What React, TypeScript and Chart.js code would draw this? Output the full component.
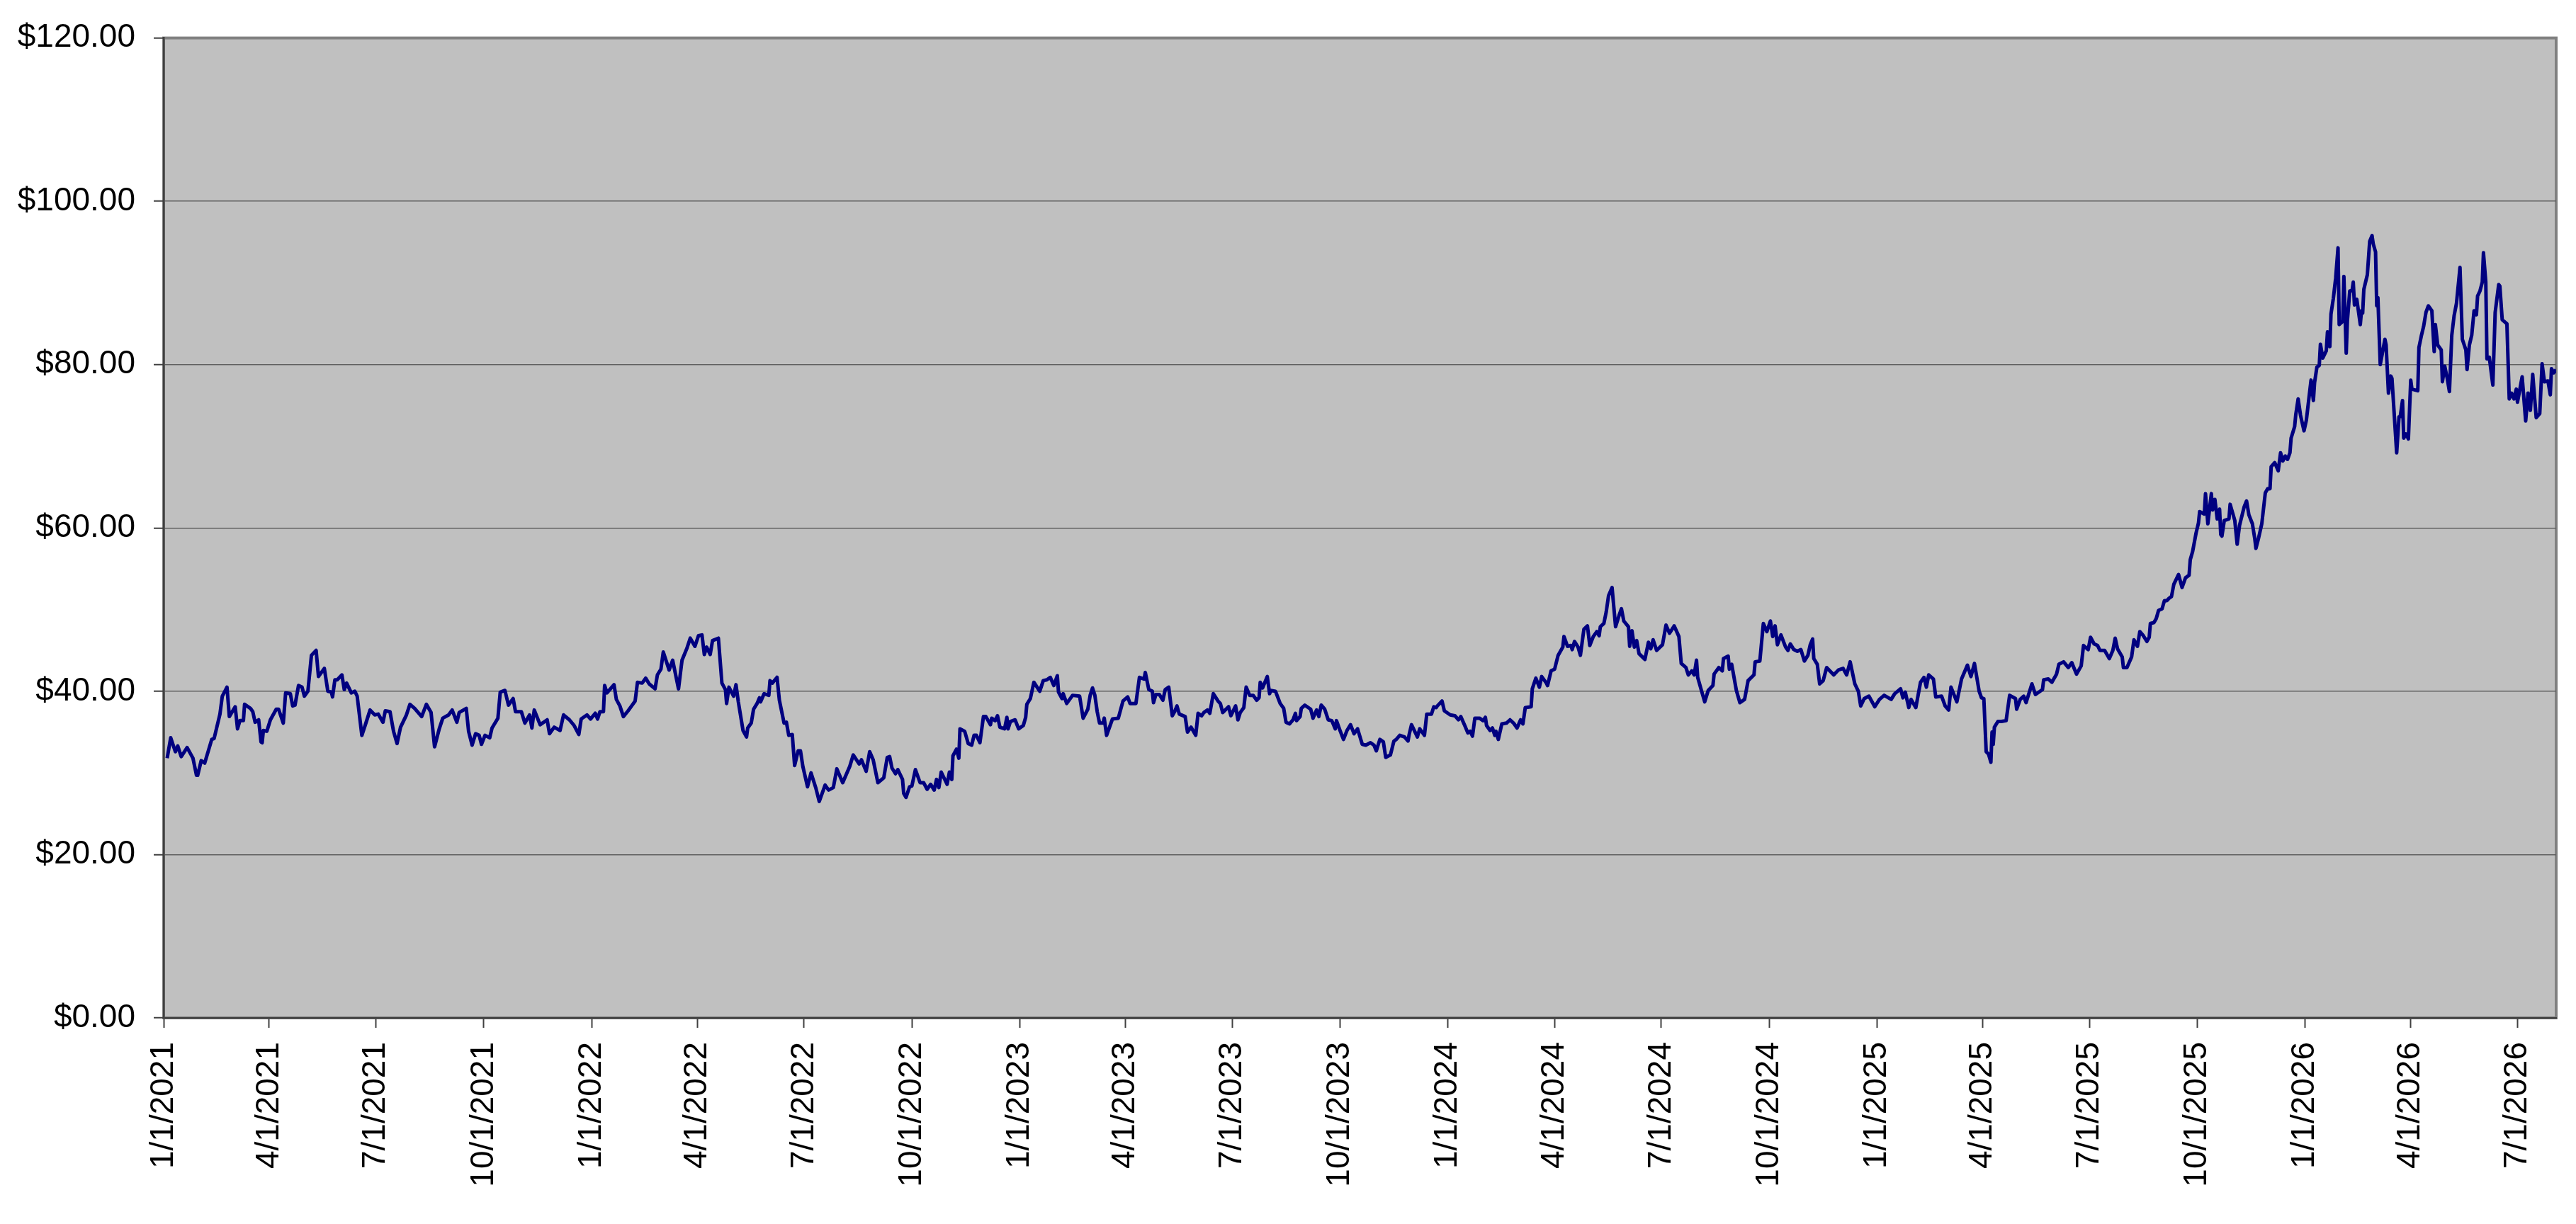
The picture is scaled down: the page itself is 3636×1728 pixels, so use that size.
import { useEffect, useRef } from "react";
import { Chart, ChartOptions, Plugin, registerables } from "chart.js";

Chart.register(...registerables);

// x positions are days counted from 1/1/2021
const days = [
  3, 6, 10, 12, 15, 20, 25, 28, 29, 32, 35, 41, 43, 48, 50, 54, 56, 61, 63, 65,
  68, 69, 74, 76, 78, 81, 83, 84, 85, 88, 91, 96, 98, 102, 104, 108, 110, 112, 115, 118,
  120, 123, 126, 130, 132, 137, 140, 143, 144, 146, 148, 152, 154, 156, 160, 163, 165, 169, 172, 176,
  180, 183, 187, 189, 193, 196, 199, 202, 207, 210, 214, 220, 224, 228, 231, 235, 238, 243, 246, 250,
  252, 258, 260, 263, 266, 269, 271, 274, 278, 280, 285, 287, 291, 294, 298, 300, 305, 308, 312, 314,
  316, 321, 327, 329, 333, 338, 341, 346, 350, 354, 356, 361, 364, 368, 370, 372, 375, 376, 378, 384,
  386, 389, 392, 396, 399, 402, 404, 408, 411, 414, 419, 421, 424, 426, 431, 434, 439, 442, 446, 449,
  453, 456, 459, 461, 463, 466, 468, 473, 476, 479, 480, 482, 486, 488, 490, 494, 497, 498, 501, 503,
  506, 508, 509, 512, 516, 517, 519, 523, 525, 529, 531, 533, 536, 538, 541, 543, 545, 549, 552, 556,
  559, 564, 567, 571, 574, 579, 585, 588, 593, 595, 599, 602, 605, 609, 614, 617, 619, 621, 624, 626,
  630, 631, 633, 636, 638, 641, 645, 648, 651, 654, 657, 659, 661, 663, 668, 670, 672, 673, 676, 678,
  679, 683, 686, 689, 691, 693, 696, 699, 701, 705, 706, 709, 711, 713, 717, 719, 720, 722, 726, 729,
  733, 735, 736, 739, 742, 747, 750, 753, 756, 759, 762, 763, 766, 767, 770, 775, 781, 784, 788, 790,
  792, 794, 796, 798, 801, 802, 804, 809, 814, 818, 822, 824, 829, 832, 836, 837, 840, 843, 844, 846,
  849, 852, 854, 857, 860, 862, 864, 866, 871, 873, 876, 880, 882, 885, 887, 890, 892, 895, 899, 901,
  903, 908, 910, 914, 916, 918, 921, 923, 926, 929, 932, 934, 935, 937, 941, 943, 944, 948, 952, 955,
  957, 960, 963, 965, 966, 969, 970, 973, 978, 980, 983, 985, 987, 990, 993, 996, 999, 1000, 1003, 1006,
  1009, 1012, 1015, 1018, 1022, 1025, 1029, 1032, 1034, 1037, 1040, 1042, 1046, 1049, 1051, 1054, 1058, 1061, 1062, 1064,
  1069, 1071, 1075, 1077, 1081, 1083, 1085, 1086, 1090, 1092, 1097, 1101, 1104, 1106, 1110, 1112, 1114, 1116, 1118, 1122,
  1125, 1127, 1128, 1131, 1133, 1135, 1136, 1138, 1141, 1145, 1148, 1151, 1154, 1157, 1159, 1161, 1166, 1167, 1170, 1173,
  1175, 1179, 1180, 1183, 1186, 1189, 1193, 1194, 1197, 1200, 1201, 1203, 1206, 1208, 1211, 1214, 1216, 1219, 1222, 1224,
  1225, 1228, 1230, 1232, 1235, 1238, 1241, 1243, 1245, 1249, 1250, 1252, 1254, 1256, 1258, 1263, 1266, 1268, 1270, 1273,
  1278, 1281, 1284, 1288, 1292, 1294, 1298, 1300, 1303, 1305, 1307, 1308, 1312, 1314, 1317, 1321, 1322, 1326, 1329, 1330,
  1334, 1335, 1337, 1341, 1344, 1348, 1351, 1356, 1357, 1361, 1364, 1367, 1370, 1372, 1374, 1376, 1379, 1383, 1385, 1387,
  1390, 1393, 1396, 1399, 1402, 1404, 1406, 1407, 1410, 1412, 1415, 1418, 1424, 1428, 1432, 1435, 1438, 1442, 1445, 1447,
  1450, 1454, 1459, 1463, 1467, 1473, 1476, 1481, 1483, 1485, 1488, 1490, 1494, 1498, 1501, 1503, 1505, 1509, 1511, 1516,
  1519, 1522, 1524, 1529, 1533, 1538, 1541, 1544, 1548, 1550, 1552, 1554, 1556, 1558, 1559, 1560, 1561, 1564, 1567, 1571,
  1574, 1579, 1580, 1583, 1586, 1588, 1593, 1596, 1602, 1603, 1607, 1610, 1614, 1616, 1620, 1624, 1627, 1631, 1635, 1637,
  1641, 1643, 1646, 1649, 1651, 1655, 1659, 1662, 1664, 1666, 1670, 1671, 1674, 1678, 1680, 1683, 1685, 1688, 1691, 1693,
  1694, 1697, 1699, 1701, 1704, 1706, 1708, 1710, 1712, 1714, 1718, 1721, 1724, 1727, 1728, 1730, 1733, 1735, 1736, 1740,
  1741, 1743, 1745, 1746, 1747, 1749, 1751, 1753, 1754, 1755, 1757, 1761, 1762, 1766, 1768, 1770, 1774, 1776, 1778, 1781,
  1783, 1784, 1786, 1789, 1792, 1794, 1796, 1797, 1800, 1803, 1805, 1807, 1809, 1811, 1813, 1814, 1817, 1818, 1820, 1822,
  1825, 1827, 1831, 1833, 1834, 1836, 1838, 1839, 1841, 1844, 1845, 1847, 1848, 1850, 1852, 1854, 1855, 1858, 1859, 1861,
  1862, 1864, 1866, 1867, 1868, 1870, 1873, 1874, 1875, 1876, 1879, 1881, 1883, 1884, 1886, 1887, 1888, 1890, 1894, 1895,
  1897, 1899, 1900, 1904, 1906, 1907, 1909, 1910, 1912, 1914, 1916, 1917, 1922, 1923, 1925, 1927, 1929, 1931, 1934, 1936,
  1937, 1939, 1942, 1943, 1945, 1947, 1949, 1951, 1953, 1955, 1957, 1958, 1960, 1963, 1964, 1966, 1968, 1970, 1972, 1973,
  1975, 1977, 1978, 1980, 1981, 1983, 1986, 1988, 1991, 1992, 1994, 1998, 2000, 2002, 2004, 2006, 2007, 2011, 2014, 2016,
  2018, 2020, 2023, 2026, 2028, 2030, 2033, 2035, 2036, 2038, 2040,
];

const prices = [
  31.8, 34.3, 32.6, 33.3, 32.0, 33.1, 31.8, 29.7, 29.7, 31.5, 31.2, 34.1, 34.2, 37.2, 39.4, 40.5, 36.9, 38.1, 35.4, 36.4,
  36.4, 38.4, 37.9, 37.5, 36.2, 36.5, 33.8, 33.7, 35.2, 35.1, 36.5, 37.8, 37.8, 36.1, 39.8, 39.7, 38.2, 38.3, 40.7, 40.5,
  39.4, 40.0, 44.4, 45.0, 41.8, 42.8, 40.0, 39.9, 39.3, 41.4, 41.4, 42.0, 40.2, 41.0, 39.8, 40.0, 39.4, 34.6, 35.9, 37.7,
  37.1, 37.2, 36.2, 37.6, 37.5, 35.1, 33.6, 35.6, 37.1, 38.4, 37.9, 36.9, 38.4, 37.4, 33.2, 35.4, 36.7, 37.1, 37.7, 36.2,
  37.4, 37.9, 35.1, 33.4, 34.8, 34.6, 33.5, 34.6, 34.3, 35.5, 36.7, 39.9, 40.1, 38.3, 39.1, 37.5, 37.5, 36.1, 37.1, 35.5,
  37.7, 35.9, 36.5, 34.8, 35.6, 35.2, 37.1, 36.5, 35.8, 34.7, 36.6, 37.1, 36.6, 37.3, 36.6, 37.5, 37.5, 40.7, 39.8, 40.8,
  39.0, 38.2, 36.9, 37.6, 38.2, 38.8, 41.1, 41.0, 41.6, 40.9, 40.3, 42.0, 42.7, 44.8, 42.6, 43.8, 40.3, 43.8, 45.2, 46.5,
  45.5, 46.8, 46.9, 44.5, 45.4, 44.5, 46.2, 46.5, 41.0, 40.2, 38.5, 40.5, 39.4, 40.8, 38.7, 35.2, 34.4, 35.5, 36.1, 37.8,
  38.5, 39.2, 38.7, 39.7, 39.5, 41.3, 41.0, 41.7, 38.9, 36.1, 36.2, 34.6, 34.7, 30.9, 32.7, 32.7, 30.8, 28.3, 30.0, 28.2,
  26.5, 28.5, 27.9, 28.2, 30.5, 28.8, 30.8, 32.2, 31.1, 31.6, 30.2, 32.6, 31.6, 28.8, 29.4, 31.9, 32.0, 30.6, 29.9, 30.4,
  29.2, 27.5, 27.0, 28.3, 28.4, 30.4, 28.8, 28.8, 28.0, 28.6, 27.9, 29.2, 28.2, 30.1, 28.6, 30.1, 29.2, 32.1, 32.9, 31.8,
  35.4, 35.1, 33.6, 33.4, 34.6, 34.6, 33.7, 36.9, 36.9, 35.9, 36.7, 36.4, 37.0, 35.6, 35.4, 36.8, 35.4, 36.3, 36.5, 35.4,
  35.8, 36.8, 38.4, 39.1, 41.1, 40.0, 41.3, 41.4, 41.7, 40.7, 41.9, 39.9, 39.1, 39.7, 38.5, 39.5, 39.4, 36.7, 37.8, 39.5,
  40.4, 39.5, 37.5, 36.1, 36.1, 36.7, 34.6, 36.6, 36.7, 38.8, 39.3, 38.5, 38.5, 41.7, 41.5, 42.3, 40.2, 40.0, 38.6, 39.6,
  39.6, 38.9, 40.2, 40.5, 37.0, 37.5, 38.2, 37.2, 36.9, 35.0, 35.6, 34.6, 37.3, 37.0, 37.4, 37.7, 37.3, 39.7, 38.8, 38.5,
  37.4, 38.1, 37.0, 38.2, 36.5, 37.4, 38.0, 40.5, 39.5, 39.5, 38.9, 39.2, 41.1, 40.4, 41.8, 39.7, 40.1, 40.0, 38.5, 37.9,
  36.2, 36.0, 36.5, 37.3, 36.4, 36.9, 37.9, 38.3, 37.8, 36.7, 37.7, 36.9, 38.3, 37.8, 36.5, 36.4, 35.4, 36.4, 35.2, 34.1,
  35.2, 35.9, 34.8, 35.4, 33.5, 33.4, 33.7, 33.4, 32.7, 34.1, 33.8, 31.9, 32.2, 33.9, 34.1, 34.6, 34.4, 33.9, 34.7, 35.9,
  34.4, 35.4, 34.6, 37.2, 37.2, 38.1, 38.0, 38.2, 38.8, 37.6, 37.1, 37.0, 36.5, 36.9, 35.6, 34.9, 35.1, 34.5, 36.7, 36.7,
  36.4, 36.8, 35.8, 35.2, 35.5, 34.6, 35.1, 34.1, 36.0, 36.1, 36.5, 36.1, 35.5, 36.5, 36.0, 38.0, 38.1, 40.3, 41.6, 40.5,
  41.8, 41.0, 40.7, 42.5, 42.7, 44.4, 45.4, 46.7, 45.5, 45.6, 45.1, 46.1, 45.4, 44.4, 47.6, 48.0, 45.6, 46.7, 47.3, 46.8,
  47.9, 48.3, 49.7, 51.7, 52.7, 47.9, 49.3, 50.1, 48.6, 47.9, 45.5, 47.4, 45.4, 46.2, 44.6, 43.9, 46.0, 45.2, 46.3, 45.0,
  45.7, 48.1, 47.1, 48.0, 46.7, 43.4, 42.9, 42.0, 42.5, 42.0, 43.8, 41.7, 39.7, 38.7, 40.1, 40.7, 42.1, 42.9, 42.5, 44.0,
  44.3, 42.7, 43.3, 40.1, 38.6, 39.0, 41.3, 42.0, 43.6, 43.7, 48.3, 47.3, 48.6, 46.7, 48.0, 45.7, 46.9, 45.4, 45.0, 45.8,
  45.1, 44.9, 45.1, 43.7, 44.4, 45.7, 46.4, 44.0, 43.3, 40.9, 41.3, 42.9, 42.0, 42.6, 42.8, 42.0, 43.6, 40.9, 40.0, 38.2,
  39.1, 39.4, 38.1, 39.0, 39.5, 39.0, 39.7, 40.3, 39.2, 39.9, 38.0, 39.0, 38.0, 41.1, 41.7, 40.5, 42.0, 41.5, 39.3, 39.4,
  38.2, 37.7, 40.5, 38.7, 41.5, 43.2, 41.8, 43.4, 40.0, 39.2, 39.1, 32.6, 32.3, 31.3, 35.0, 33.5, 35.6, 36.3, 36.3, 36.4,
  39.5, 39.1, 37.8, 39.0, 39.4, 38.6, 40.9, 39.6, 40.2, 41.4, 41.5, 41.1, 42.1, 43.3, 43.6, 42.9, 43.5, 42.1, 43.1, 45.6,
  45.1, 46.6, 45.8, 45.6, 45.0, 45.0, 44.0, 45.0, 46.5, 45.2, 44.2, 42.9, 42.9, 44.2, 46.3, 45.5, 47.3, 46.8, 46.1, 46.6,
  48.3, 48.4, 48.9, 49.9, 50.1, 51.1, 51.1, 51.4, 51.6, 53.1, 54.3, 52.7, 53.9, 54.2, 56.1, 57.1, 59.4, 60.6, 62.0, 61.7,
  64.2, 60.5, 63.0, 64.2, 62.2, 63.5, 61.1, 62.3, 59.2, 59.0, 60.9, 61.1, 62.9, 60.9, 58.0, 60.3, 62.6, 63.3, 61.6, 60.5,
  58.7, 57.5, 58.6, 60.5, 64.3, 64.8, 64.8, 67.5, 68.0, 67.0, 69.2, 68.2, 68.8, 68.4, 69.2, 71.0, 72.4, 73.9, 75.8, 73.8,
  71.9, 73.2, 78.1, 75.6, 77.8, 79.7, 79.9, 82.5, 80.8, 81.7, 84.0, 82.2, 86.2, 88.1, 90.6, 94.3, 84.9, 85.3, 90.8, 81.4,
  85.4, 89.0, 89.1, 90.1, 87.3, 88.0, 84.9, 86.6, 86.3, 89.2, 91.0, 95.1, 95.8, 94.8, 93.8, 87.2, 88.2, 80.0, 83.1, 82.4,
  76.5, 78.6, 78.3, 69.2, 73.6, 73.6, 75.6, 71.0, 71.5, 70.9, 78.1, 77.0, 76.8, 82.1, 83.5, 84.7, 86.4, 87.2, 86.6, 81.6,
  84.9, 82.4, 81.8, 77.9, 79.8, 78.4, 76.7, 83.6, 86.0, 87.5, 90.4, 91.9, 83.1, 81.8, 79.4, 82.4, 83.6, 86.6, 86.1, 88.4,
  89.0, 90.1, 93.7, 90.1, 80.7, 80.9, 77.5, 86.4, 89.8, 89.6, 85.5, 85.0, 75.8, 76.5, 75.8, 77.0, 75.4, 78.5, 73.1, 76.5,
  74.4, 78.8, 73.5, 74.0, 80.1, 77.9, 78.0, 76.3, 79.5, 79.0, 79.4,
];

const xTickLabels = [
  "1/1/2021", "4/1/2021", "7/1/2021", "10/1/2021",
  "1/1/2022", "4/1/2022", "7/1/2022", "10/1/2022",
  "1/1/2023", "4/1/2023", "7/1/2023", "10/1/2023",
  "1/1/2024", "4/1/2024", "7/1/2024", "10/1/2024",
  "1/1/2025", "4/1/2025", "7/1/2025", "10/1/2025",
  "1/1/2026", "4/1/2026", "7/1/2026",
];

const yTicks = [0, 20, 40, 60, 80, 100, 120];

const X_END = 2040;

const toDay = (label: string) => {
  const [m, d, y] = label.split("/").map(Number);
  return Math.round((Date.UTC(y, m - 1, d) - Date.UTC(2021, 0, 1)) / 86400000);
};
const xTickDays = xTickLabels.map(toDay);

const FONT = { family: "'Liberation Sans', Arial, sans-serif", size: 46 };

// grey plot area with the old-Excel grey frame
const plotArea: Plugin = {
  id: "plotArea",
  beforeDraw(chart) {
    const { ctx, chartArea: a } = chart;
    ctx.save();
    ctx.fillStyle = "#c0c0c0";
    ctx.fillRect(a.left, a.top, a.right - a.left, a.bottom - a.top);
    ctx.strokeStyle = "#808080";
    ctx.lineWidth = 4;
    ctx.strokeRect(a.left, a.top, a.right - a.left, a.bottom - a.top);
    ctx.restore();
  },
};

export default function App() {
  const chartRef = useRef<HTMLCanvasElement>(null);
  const chartInstance = useRef<Chart | null>(null);

  useEffect(() => {
    if (!chartRef.current) return;
    if (chartInstance.current) chartInstance.current.destroy();

    const options: ChartOptions<"line"> = {
      responsive: true,
      maintainAspectRatio: false,
      animation: false,
      layout: { padding: { top: 44, right: 28, left: 0, bottom: 0 } },
      plugins: {
        legend: { display: false },
        tooltip: { enabled: false },
      },
      elements: { point: { radius: 0 } },
      scales: {
        x: {
          type: "linear",
          min: 0,
          max: X_END,
          afterBuildTicks: (scale) => {
            scale.ticks = xTickDays.map((v) => ({ value: v }));
          },
          afterFit: (scale) => {
            scale.height = 291;
          },
          grid: {
            drawOnChartArea: false,
            drawTicks: true,
            tickLength: 14,
            tickColor: "#404040",
            tickWidth: 2,
          },
          border: { display: true, color: "#404040", width: 2.5 },
          ticks: {
            autoSkip: false,
            minRotation: 90,
            maxRotation: 90,
            padding: 20,
            color: "#000",
            font: FONT,
            callback: (value) => xTickLabels[xTickDays.indexOf(Number(value))] ?? "",
          },
        },
        y: {
          min: 0,
          max: 120,
          afterBuildTicks: (scale) => {
            scale.ticks = yTicks.map((v) => ({ value: v }));
          },
          afterFit: (scale) => {
            scale.width = 231;
          },
          grid: {
            color: (c) => (c.tick && c.tick.value === 120 ? "rgba(0,0,0,0)" : "#606060"),
            lineWidth: 1.5,
            drawTicks: true,
            tickLength: 14,
            tickColor: "#404040",
            tickWidth: 2,
          },
          border: { display: true, color: "#404040", width: 2.5 },
          ticks: {
            padding: 26,
            color: "#000",
            font: FONT,
            callback: (value) => "$" + Number(value).toFixed(2),
          },
        },
      },
    };

    chartInstance.current = new Chart(chartRef.current, {
      type: "line",
      data: {
        datasets: [
          {
            data: days.map((d, i) => ({ x: d, y: prices[i] })),
            borderColor: "#000080",
            borderWidth: 5,
            borderJoinStyle: "round",
            tension: 0,
            fill: false,
          },
        ],
      },
      options,
      plugins: [plotArea],
    });

    return () => {
      if (chartInstance.current) {
        chartInstance.current.destroy();
        chartInstance.current = null;
      }
    };
  }, []);

  return (
    <div style={{ position: "fixed", left: 0, top: 0, width: 3636, height: 1728, background: "#fff" }}>
      <canvas ref={chartRef} />
    </div>
  );
}
